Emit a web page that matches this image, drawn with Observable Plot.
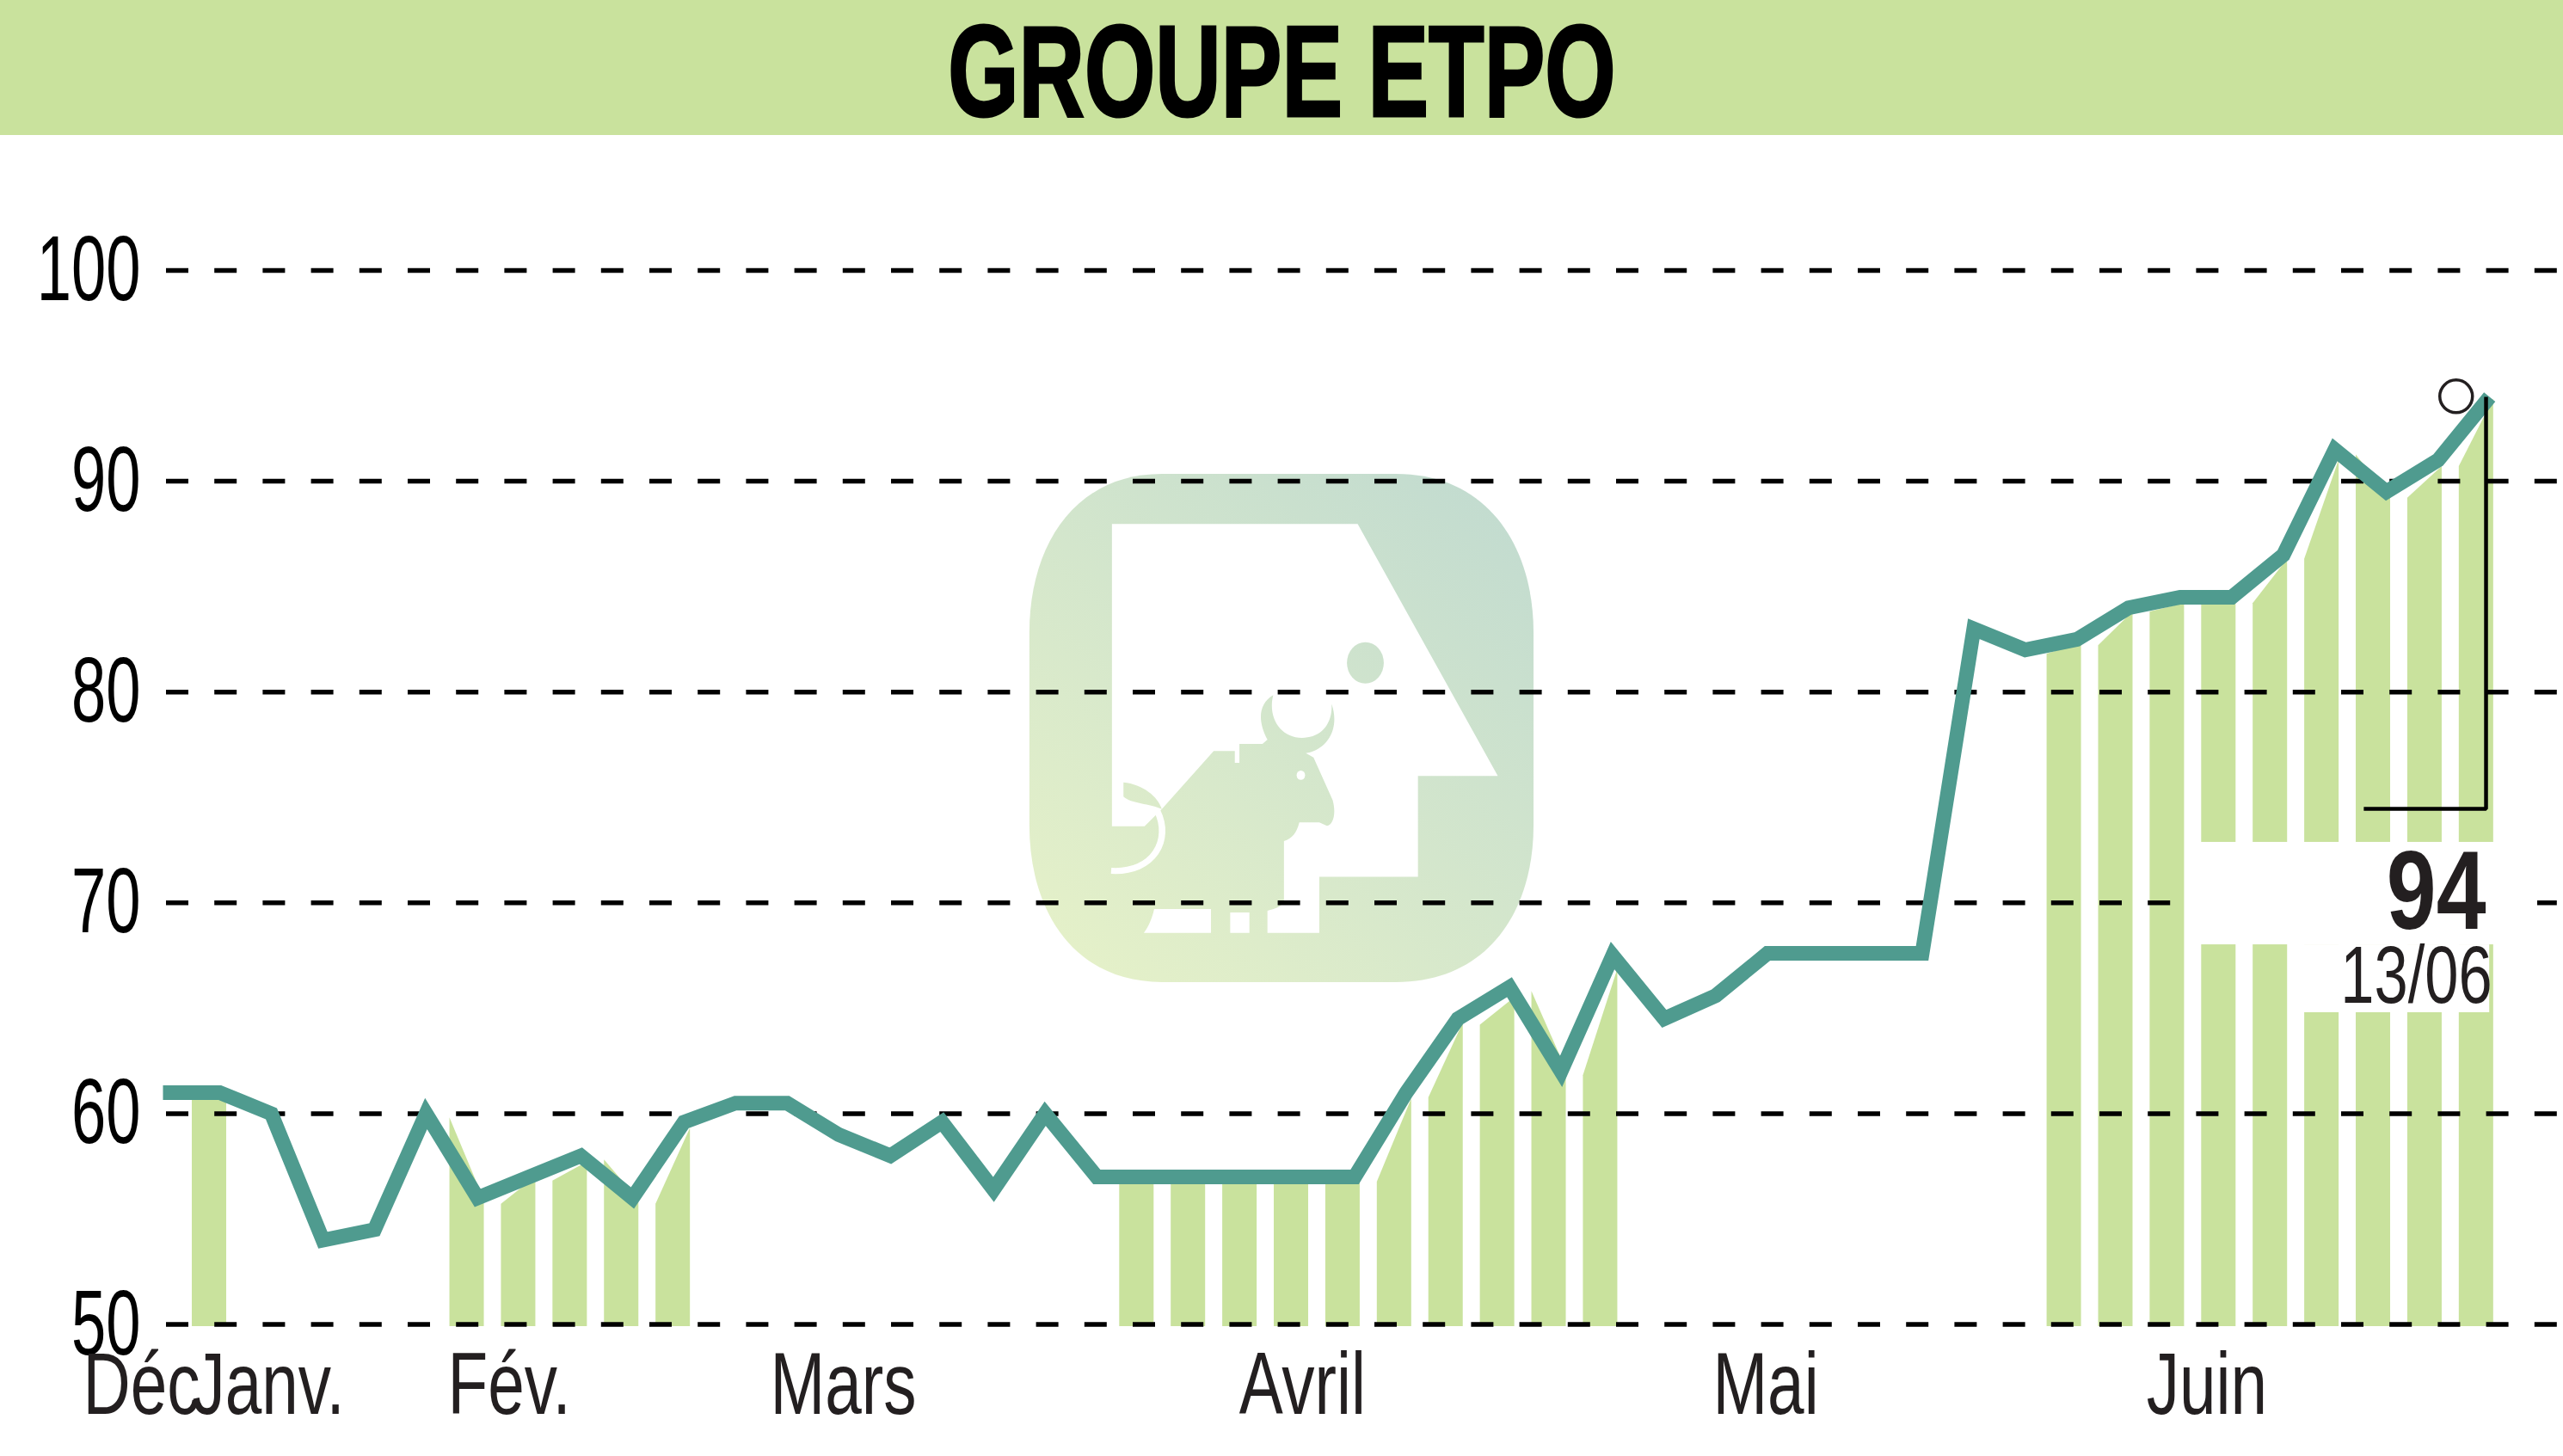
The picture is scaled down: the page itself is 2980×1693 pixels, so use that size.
<!DOCTYPE html>
<html lang="fr">
<head>
<meta charset="utf-8">
<title>GROUPE ETPO</title>
<script src="https://cdn.jsdelivr.net/npm/d3@7"></script>
<script src="https://cdn.jsdelivr.net/npm/@observablehq/plot@0.6"></script>
<style>
  html, body { margin: 0; padding: 0; background: #fff; }
  #banner { height: 157px; background: #c9e29d; display: flex; align-items: center; justify-content: center; }
  #banner span { font: bold 146px "Liberation Sans", sans-serif; color: #000; display: inline-block; transform: translateY(4px) scale(0.725, 1.03); line-height: 1; -webkit-text-stroke: 3px #000; }
  svg { display: block; }
</style>
</head>
<body>
<div id="banner"><span>GROUPE ETPO</span></div>
<div id="chart"></div>
<script>
// ---- data ----
const price = [61, 61, 60, 54, 54.5, 60, 56, 57, 58, 56, 59.6, 60.5, 60.5, 59, 58, 59.6, 56.4, 60, 57, 57, 57, 57, 57, 57, 61, 64.5, 66, 62, 67.5, 64.5, 65.6, 67.6, 67.6, 67.6, 67.6, 83, 82, 82.5, 84, 84.5, 84.5, 86.5, 91.5, 89.5, 91, 94];
const stripeIndex = [0, 5, 6, 7, 8, 9, 18, 19, 20, 21, 22, 23, 24, 25, 26, 27, 36, 37, 38, 39, 40, 41, 42, 43, 44];
const stripeTopLeft = [60.8, 59.8, 55.7, 56.8, 57.8, 55.7, 57, 57, 57, 57, 57, 56.75, 60.75, 64.2, 65.8, 61.8, 81.8, 82.2, 83.8, 84.3, 84.2, 86.3, 91.25, 89.2, 90.7];
const stripeTopRight = [60.8, 55.9, 57, 57.7, 55.9, 59.3, 57, 57, 57, 57, 57, 60.7, 64.3, 65.5, 62.1, 66.85, 82.3, 83.8, 84.2, 84.3, 86.3, 91, 89.2, 90.7, 93.9];
const yTicks = [50, 60, 70, 80, 90, 100];
const monthLabels = ["Déc", "Janv.", "Fév.", "Mars", "Avril", "Mai", "Juin"];
const monthPositions = [-1.65, 0.467, 5.42, 11.67, 20.76, 29.94, 38.35];
const lastValue = "94", lastDate = "13/06";
const leaderX = [42.56, 44.93, 44.93], leaderY = [74.46, 74.46, 94];
const labelBoxes = [{x1: 39.11, x2: 45.93, y1: 68.01, y2: 72.87}, {x1: 41.41, x2: 45.0, y1: 64.79, y2: 68.01}];

// ---- colours ----
const barGreen = "#c9e29d", teal = "#4f9b8f", ink = "#231f20";
const font = '"Liberation Sans", sans-serif';

const stripes = stripeIndex.flatMap((k, i) => {
  const left = 0.467 + 0.9987 * k, right = left + 0.667;
  return [{k, x: left, top: stripeTopLeft[i]}, {k, x: right, top: stripeTopRight[i]}];
});
const linePoints = price.map((v, i) => ({x: i === 0 ? -0.1 : i, v}));
const leader = leaderX.map((x, i) => ({x, y: leaderY[i]}));

// watermark logo, drawn in its own local coordinates
function logoMark() {
  const g = d3.create("svg:g").attr("transform", "translate(1150,363) scale(0.44643,0.41459)").attr("aria-label", "logo");
  const id = "logoGradient";
  const grad = g.append("linearGradient").attr("id", id).attr("gradientUnits", "userSpaceOnUse")
    .attr("x1", 105).attr("y1", 1500).attr("x2", 1418).attr("y2", 75);
  grad.append("stop").attr("offset", 0).attr("stop-color", "#e7f2c8");
  grad.append("stop").attr("offset", 1).attr("stop-color", "#c0dad0");
  const fill = `url(#${id})`;
  g.append("path").attr("fill", fill).attr("d", "M450,75H1060C1300,75 1418,280 1418,520V1060C1418,1300 1300,1500 1060,1500H450C220,1500 105,1300 105,1060V520C105,280 220,75 450,75Z");
  g.append("path").attr("fill", "#fff").attr("d", "M320,215H960L1325,922H1117V1205H860V1362H725V1300C745,1295 760,1290 768,1275V1105C790,1095 800,1085 808,1052H860L880,1062C895,1060 905,1030 895,990L845,870L825,858C880,850 915,790 892,720C895,770 870,815 815,815C760,815 725,760 740,695C700,720 700,770 725,820L712,832H652V885H640V852H585L450,1015L405,1063H320Z");
  g.append("path").attr("fill", "#fff").attr("d", "M628,1305H678V1362H628ZM403,1362H578V1295H430C425,1320 415,1345 403,1362Z");
  g.append("ellipse").attr("fill", "#fff").attr("cx", 812).attr("cy", 920).attr("rx", 11).attr("ry", 13);
  g.append("ellipse").attr("fill", fill).attr("cx", 980).attr("cy", 605).attr("rx", 48).attr("ry", 58);
  g.append("path").attr("fill", fill).attr("d", "M350,940C400,945 440,980 450,1015C420,1000 370,1000 350,980Z");
  g.append("path").attr("fill", "none").attr("stroke", "#fff").attr("stroke-width", 17).attr("d", "M438,1020C475,1100 430,1195 318,1188");
  return g.node();
}

const plot = Plot.plot({
  width: 2980,
  height: 1536,
  marginTop: 157,
  marginBottom: 153.5,
  marginLeft: 193,
  marginRight: 0,
  style: {fontFamily: font, background: "transparent", maxWidth: "none", color: ink},
  x: {domain: [-0.0333, 46.43], axis: null},
  y: {domain: [50, 100], axis: null},
  marks: [
    Plot.areaY(stripes, {x: "x", y1: () => 49.9, y2: "top", z: "k", fill: barGreen, curve: "linear"}),
    logoMark,
    Plot.ruleY(yTicks, {stroke: "#000", strokeWidth: 5.5, strokeDasharray: "26,30.2"}),
    Plot.rect(labelBoxes, {x1: "x1", x2: "x2", y1: "y1", y2: "y2", fill: "#fff"}),
    Plot.axisY({ticks: yTicks, anchor: "left", tickSize: 0, tickPadding: 30, fontSize: 108, label: null, color: "#000"}),
    Plot.axisX({ticks: monthPositions, anchor: "bottom", tickSize: 0, tickPadding: 32, fontSize: 102, textAnchor: "start", label: null, tickFormat: d => monthLabels[monthPositions.indexOf(d)]}),
    Plot.line(linePoints, {x: "x", y: "v", stroke: teal, strokeWidth: 17, strokeLinejoin: "miter", strokeLinecap: "butt", strokeMiterlimit: 3, curve: "linear"}),
    Plot.line(leader, {x: "x", y: "y", stroke: "#000", strokeWidth: 4.5, strokeLinejoin: "miter", strokeLinecap: "butt", curve: "linear"}),
    Plot.dot([{x: 44.35, y: 94.03}], {x: "x", y: "y", r: 19, fill: "none", stroke: ink, strokeWidth: 3.5}),
    Plot.text([lastValue], {x: 44.93, y: 70.45, text: d => d, textAnchor: "end", fontSize: 130, fontWeight: "bold", fill: ink}),
    Plot.text([lastDate], {x: 45.05, y: 66.5, text: d => d, textAnchor: "end", fontSize: 94, fill: ink})
  ]
});

// the reference's typeface is condensed: narrow the tick and callout labels around their anchors
const condense = (texts, sx) => {
  for (const t of texts) {
    t.setAttribute("transform", (t.getAttribute("transform") || "") + ` scale(${sx},1)`);
  }
};
const allText = [...plot.querySelectorAll("text")];
condense(plot.querySelectorAll('[aria-label="y-axis tick label"] text'), 0.67);
condense(plot.querySelectorAll('[aria-label="x-axis tick label"] text'), 0.75);
condense(allText.filter(t => t.textContent === lastValue), 0.8);
condense(allText.filter(t => t.textContent === lastDate), 0.75);
document.getElementById("chart").append(plot);
</script>
</body>
</html>
